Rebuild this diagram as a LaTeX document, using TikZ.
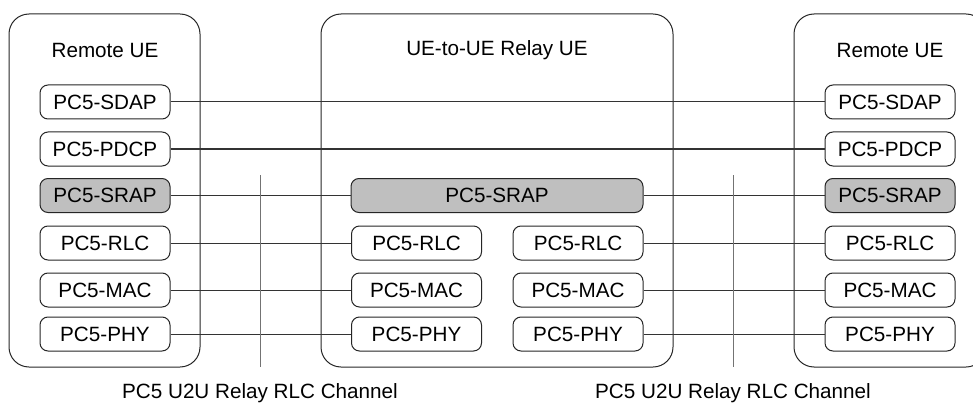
\documentclass[tikz,border=0pt]{standalone}
\usepackage{fontspec}
\setmainfont{Liberation Sans}
\tikzset{
  layer/.style={draw=black!85, line width=0.75pt, rounded corners=6pt, fill=white,
    minimum width=97.5pt, minimum height=25.5pt, inner sep=0pt, font=\fontsize{15.5}{18}\selectfont},
  graylayer/.style={layer, fill=black!25},
  uebox/.style={draw=black!85, line width=0.75pt, rounded corners=15pt},
  link/.style={draw=black!80, line width=0.75pt},
  chan/.style={draw=black!55, line width=0.75pt},
  lbl/.style={font=\fontsize{15.5}{18}\selectfont, inner sep=0pt}
}
\begin{document}
\begin{tikzpicture}[x=0.75pt, y=-0.75pt]
\useasboundingbox (0,0) rectangle (973,406);
% outer UE boxes:
\draw[uebox] (9,14) rectangle (200,367);
\draw[uebox] (321,14) rectangle (673,367);
\draw[uebox] (794,14) rectangle (986,367);
\node[lbl] (ltitle) at (105,50) {Remote UE};
\node[lbl] (mtitle) at (497,50) {UE-to-UE Relay UE};
\node[lbl] (rtitle) at (890,50) {Remote UE};
% left remote UE stack:
\node[layer] (lsdap) at (105,102) {PC5-SDAP};
\node[layer] (lpdcp) at (105,149) {PC5-PDCP};
\node[graylayer] (lsrap) at (105,195.5) {PC5-SRAP};
\node[layer] (lrlc) at (105,243) {PC5-RLC};
\node[layer] (lmac) at (105,290) {PC5-MAC};
\node[layer] (lphy) at (105,334) {PC5-PHY};
% relay UE stack:
\node[graylayer, minimum width=219pt] (msrap) at (497,195.5) {PC5-SRAP};
\node[layer] (mrlca) at (416.5,243) {PC5-RLC};
\node[layer] (mmaca) at (416.5,290) {PC5-MAC};
\node[layer] (mphya) at (416.5,334) {PC5-PHY};
\node[layer] (mrlcb) at (578,243) {PC5-RLC};
\node[layer] (mmacb) at (578,290) {PC5-MAC};
\node[layer] (mphyb) at (578,334) {PC5-PHY};
% right remote UE stack:
\node[layer] (rsdap) at (890,102) {PC5-SDAP};
\node[layer] (rpdcp) at (890,149) {PC5-PDCP};
\node[graylayer] (rsrap) at (890,195.5) {PC5-SRAP};
\node[layer] (rrlc) at (890,243) {PC5-RLC};
\node[layer] (rmac) at (890,290) {PC5-MAC};
\node[layer] (rphy) at (890,334) {PC5-PHY};
% peer links:
\draw[link] (lsdap) -- (rsdap);
\draw[link] (lpdcp) -- (rpdcp);
\draw[link] (lsrap) -- (msrap);
\draw[link] (msrap) -- (rsrap);
\draw[link] (lrlc) -- (mrlca);
\draw[link] (lmac) -- (mmaca);
\draw[link] (lphy) -- (mphya);
\draw[link] (mrlcb) -- (rrlc);
\draw[link] (mmacb) -- (rmac);
\draw[link] (mphyb) -- (rphy);
% RLC channel markers:
\coordinate (lchtop) at (260,175);
\coordinate (rchtop) at (733,175);
\node[lbl] (lchan) at (260,393) {PC5 U2U Relay RLC Channel};
\node[lbl] (rchan) at (733,393) {PC5 U2U Relay RLC Channel};
\draw[chan] (lchtop) -- (260,367);
\draw[chan] (rchtop) -- (733,367);
\end{tikzpicture}
\end{document}
